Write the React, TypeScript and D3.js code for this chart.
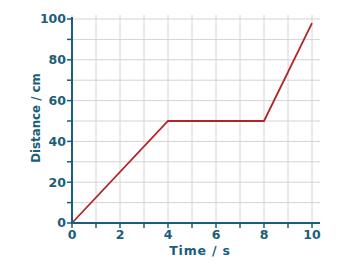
import React from "react";
import * as d3 from "d3";

const times = [0, 4, 8, 10];
const distances = [0, 50, 50, 98];
const xTicks = [0, 2, 4, 6, 8, 10];
const yTicks = [0, 20, 40, 60, 80, 100];
const xTitle = "Time / s";
const yTitle = "Distance / cm";

export default function App() {
  const W = 362, H = 269;
  const x = d3.scaleLinear().domain([0, 10]).range([72, 312]);
  const y = d3.scaleLinear().domain([0, 100]).range([223, 19]);
  const axisC = "#1b5e7b";
  const font = "'DejaVu Sans', Verdana, sans-serif";
  const pts = times.map((t, i) => [x(t), y(distances[i])] as [number, number]);
  const line = d3.line()(pts) || "";
  const xMinor = d3.range(0, 11, 1);
  const yMinor = d3.range(0, 101, 10);
  return (
    <svg width={W} height={H} style={{ position: "absolute", left: 0, top: 0, background: "#fff" }}>
      {xMinor.map((v) => (
        <line key={"gx" + v} x1={x(v)} x2={x(v)} y1={15} y2={y(0)} stroke="#d4d4d4" strokeWidth={1} />
      ))}
      {yMinor.map((v) => (
        <line key={"gy" + v} x1={x(0)} x2={320} y1={y(v)} y2={y(v)} stroke="#d4d4d4" strokeWidth={1} />
      ))}
      <path d={line} fill="none" stroke="#b32428" strokeWidth={1.8} />
      <line x1={x(0)} x2={x(0)} y1={17} y2={y(0) + 1} stroke={axisC} strokeWidth={2} />
      <line x1={x(0) - 1} x2={320} y1={y(0)} y2={y(0)} stroke={axisC} strokeWidth={2} />
      {yMinor.map((v) => (
        <line key={"ty" + v} x1={x(0) - 5} x2={x(0)} y1={y(v)} y2={y(v)} stroke={axisC} strokeWidth={1.5} />
      ))}
      {xMinor.map((v) => (
        <line key={"tx" + v} x1={x(v)} x2={x(v)} y1={y(0)} y2={y(0) + 5} stroke={axisC} strokeWidth={1.5} />
      ))}
      {yTicks.map((v) => (
        <text key={"ly" + v} x={x(0) - 6} y={y(v)} dy="0.35em" textAnchor="end" fontFamily={font} fontWeight="bold" fontSize={12.5} fill={axisC}>
          {v}
        </text>
      ))}
      {xTicks.map((v) => (
        <text key={"lx" + v} x={x(v)} y={y(0) + 16} textAnchor="middle" fontFamily={font} fontWeight="bold" fontSize={12.5} fill={axisC}>
          {v}
        </text>
      ))}
      <text x={200} y={255} textAnchor="middle" fontFamily={font} fontWeight="bold" fontSize={12.5} letterSpacing={0.8} fill={axisC}>
        {xTitle}
      </text>
      <text transform={`translate(39.5,${118}) rotate(-90)`} textAnchor="middle" fontFamily={font} fontWeight="bold" fontSize={11.8} fill={axisC}>
        {yTitle}
      </text>
    </svg>
  );
}
